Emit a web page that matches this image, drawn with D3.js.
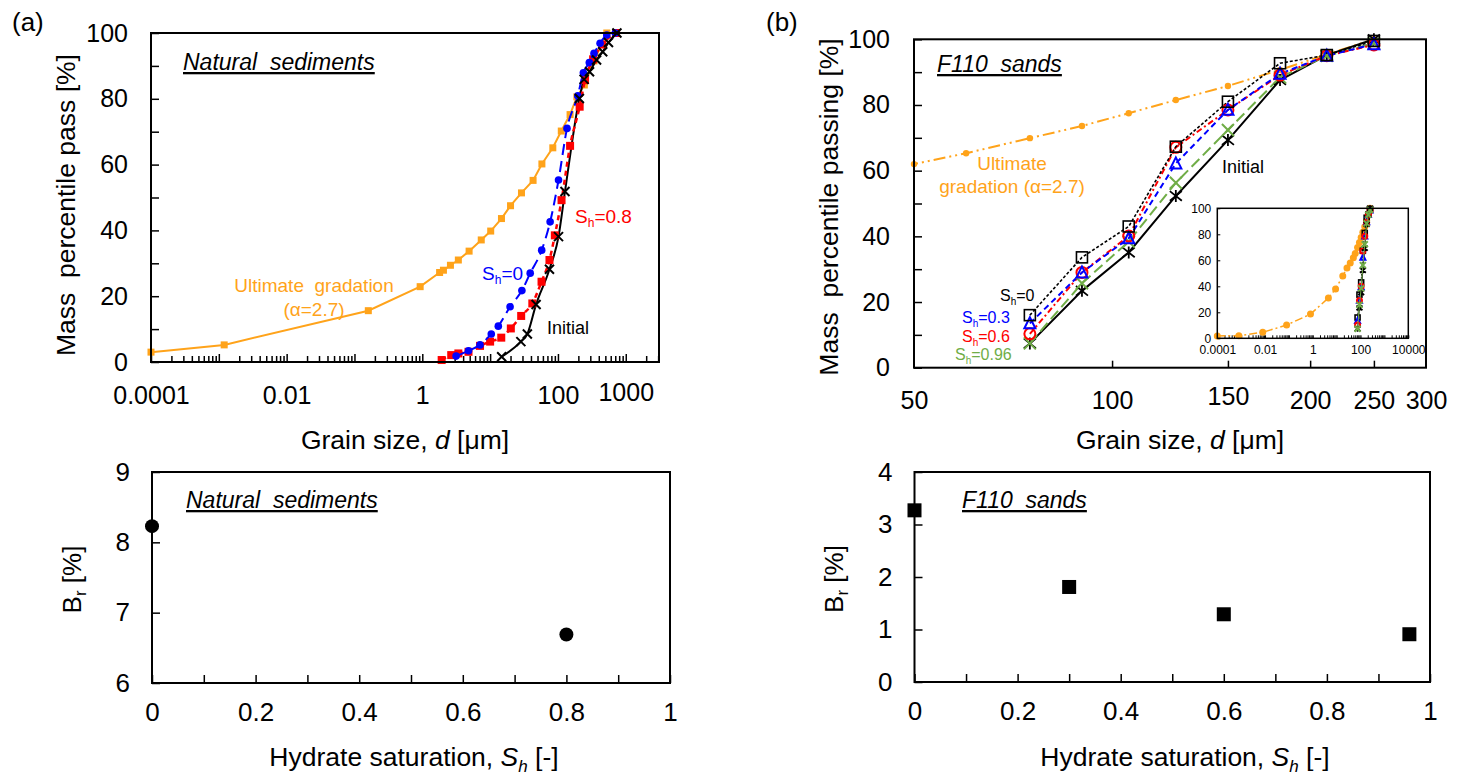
<!DOCTYPE html>
<html>
<head>
<meta charset="utf-8">
<script src="https://cdn.jsdelivr.net/npm/d3@7"></script>
<style>
  body { margin: 0; background: #fff; }
  text { font-family: "Liberation Sans", Arial, sans-serif; }
</style>
</head>
<body>
<svg id="chart"></svg>
<script>
// ---------- data (a) natural sediments ----------
const ultA_d = [0.0001, 0.0012, 0.16, 0.93, 1.8, 2.05, 2.6, 3.4, 4.9, 7.4, 10.2, 14.7, 20, 29, 43, 58, 84, 112, 151, 190, 245, 340, 525];
const ultA_p = [3, 5.2, 15.6, 22.9, 27.2, 27.9, 29.4, 31, 33.7, 37.1, 39.8, 43.6, 47.5, 51.4, 55.2, 60.2, 65.1, 70.2, 75.2, 80.6, 84.2, 91.5, 100];
const sh0A_d = [3.15, 4.8, 7.1, 10.4, 13.2, 19.7, 29.4, 39, 57.6, 76.7, 102, 136, 196, 237, 290, 340, 418, 525, 700];
const sh0A_p = [1.8, 3.4, 5.2, 8.5, 10.9, 16.8, 21.7, 27, 34, 42.6, 55.3, 71, 80.9, 87.9, 91, 93.8, 96.9, 99.4, 100];
const sh08A_d = [1.93, 2.67, 3.4, 4.8, 7.1, 10, 14.6, 20.2, 28.7, 41.9, 57.3, 75, 90, 113, 151, 209, 251, 330, 450, 720];
const sh08A_p = [0.6, 2.1, 2.6, 3.1, 4.9, 6.2, 7.4, 10.2, 14, 17.8, 24.4, 31, 38.5, 49.2, 65.7, 77.6, 85.7, 92, 96.5, 100];
const initA_d = [14.8, 28.4, 35.4, 47.6, 75, 102, 127, 207, 243, 292, 371, 457, 556, 741];
const initA_p = [1.6, 6.2, 8.5, 17.5, 28.2, 38.1, 51.8, 80.1, 85.9, 88.2, 91.8, 94.3, 97.1, 100];

const xTickValsA = [0.0001, 0.01, 1, 100, 1000];
const xTickLabsA = ["0.0001", "0.01", "1", "100", "1000"];

// ---------- data (b) F110 sands ----------
const sieveB = [75, 90, 106, 125, 150, 180, 212, 250];
const sh0B = [16.0, 33.6, 43.0, 67.3, 81.0, 92.7, 95.2, 99.5];
const sh03B = [13.5, 29.0, 39.4, 62.2, 78.5, 89.5, 95.0, 98.5];
const sh06B = [10.3, 29.0, 40.1, 67.1, 78.5, 89.1, 95.0, 98.3];
const sh096B = [7.4, 25.7, 38.4, 56.3, 72.4, 88.4, 95.0, 98.8];
const initB = [7.4, 23.4, 35.1, 52.3, 69.3, 87.6, 95.2, 100];
const ultB_d = [0.0001, 0.0008, 0.008, 0.08, 0.8, 4.5, 9, 18, 27, 37, 50, 60, 75, 90, 106, 125, 150, 180, 212, 250];
const ultB_p = [1.8, 2, 4.6, 10.2, 18.6, 31, 38, 48, 54, 58, 62, 65.3, 69.9, 73.6, 77.5, 81.5, 85.8, 90.7, 95.4, 100];

const xTickValsB = [50, 100, 150, 200, 250, 300];
const xTickValsInset = [0.0001, 0.01, 1, 100, 10000];
const xTickLabsInset = ["0.0001", "0.01", "1", "100", "10000"];

// ---------- data: breakage ----------
const brA_sh = [0, 0.8];
const brA = [8.23, 6.69];
const brB_sh = [0, 0.3, 0.6, 0.96];
const brB = [3.27, 1.81, 1.29, 0.91];

const ORANGE = "#ffa31a", BLUE = "#0000ff", RED = "#ff0000", GREEN = "#70ad47";

const svg = d3.select("#chart").attr("width", 1463).attr("height", 776);

const zip = (xs, ys) => xs.map((x, i) => ({ x, y: ys[i] }));

function logTicks(lo, hi) {
  const out = [];
  for (let e = Math.floor(Math.log10(lo)); e <= Math.ceil(Math.log10(hi)); e++) {
    for (let m = 1; m <= 9; m++) {
      const v = +(m * Math.pow(10, e)).toPrecision(3);
      if (v >= lo && v <= hi * 1.0001) out.push(v);
    }
  }
  return out;
}

function styleAxis(g, size) {
  g.select(".domain").remove();
  g.selectAll("line").attr("stroke", "#000").attr("stroke-width", 1.5);
  g.selectAll("text").style("font-size", size + "px").style("fill", "#000");
}

function frame(x0, x1, y0, y1) {
  svg.append("rect")
    .attr("x", x0).attr("y", y0)
    .attr("width", x1 - x0).attr("height", y1 - y0)
    .attr("fill", "none").attr("stroke", "#000").attr("stroke-width", 2);
}

function drawLine(g, data, x, y, color, dash, width, curve) {
  g.append("path")
    .datum(data)
    .attr("d", d3.line().x(d => x(d.x)).y(d => y(d.y)).curve(curve || d3.curveLinear))
    .attr("fill", "none")
    .attr("stroke", color)
    .attr("stroke-width", width)
    .attr("stroke-dasharray", dash);
}

function markers(g, data, x, y, kind, color, s) {
  const sel = g.append("g").selectAll("g").data(data).join("g")
    .attr("transform", d => `translate(${x(d.x)},${y(d.y)})`);
  if (kind === "fsquare") {
    sel.append("rect").attr("x", -s / 2).attr("y", -s / 2).attr("width", s).attr("height", s).attr("fill", color);
  } else if (kind === "fcircle") {
    sel.append("circle").attr("r", s).attr("fill", color);
  } else if (kind === "hsquare") {
    sel.append("rect").attr("x", -s / 2).attr("y", -s / 2).attr("width", s).attr("height", s)
      .attr("fill", "none").attr("stroke", color).attr("stroke-width", 1.6);
  } else if (kind === "hcircle") {
    sel.append("circle").attr("r", s).attr("fill", "none").attr("stroke", color).attr("stroke-width", 2);
  } else if (kind === "htri") {
    sel.append("path").attr("d", `M0,${-s * 0.55}L${s * 0.5},${s * 0.45}L${-s * 0.5},${s * 0.45}Z`)
      .attr("fill", "none").attr("stroke", color).attr("stroke-width", 2);
  } else if (kind === "x") {
    sel.append("path").attr("d", `M${-s},${-s}L${s},${s}M${-s},${s}L${s},${-s}`)
      .attr("stroke", color).attr("stroke-width", 2);
  } else if (kind === "star") {
    sel.append("path").attr("d", `M${-s},${-s * 0.8}L${s},${s * 0.8}M${-s},${s * 0.8}L${s},${-s * 0.8}M0,${-s}L0,${s}`)
      .attr("stroke", color).attr("stroke-width", 1.8);
  }
}

// plain text helper
function label(g, x, y, str, size, color, opts = {}) {
  const t = g.append("text").attr("x", x).attr("y", y)
    .attr("text-anchor", opts.anchor || "start")
    .style("font-size", size + "px").style("white-space", "pre")
    .style("fill", color || "#000").text(str);
  if (opts.italic) t.style("font-style", "italic");
  if (opts.underline) t.style("text-decoration", "underline");
  return t;
}

// text with a subscript: parts = [[text, "n"|"sub"|"i"|"isub"], ...]
function richText(g, x, y, parts, size, color, anchor) {
  const t = g.append("text").attr("x", x).attr("y", y)
    .attr("text-anchor", anchor || "start")
    .style("font-size", size + "px").style("white-space", "pre")
    .style("fill", color || "#000");
  let shifted = false;
  parts.forEach(([s, kind]) => {
    const sp = t.append("tspan").text(s);
    if (kind === "i" || kind === "isub") sp.style("font-style", "italic");
    if (kind === "sub" || kind === "isub") {
      sp.style("font-size", Math.round(size * 0.65) + "px");
      if (!shifted) { sp.attr("dy", size * 0.22); shifted = true; }
    } else if (shifted) {
      sp.attr("dy", -size * 0.22); shifted = false;
    }
  });
  return t;
}

// ================= (a) top: grain size, natural sediments =================
{
  const xA = d3.scaleLog().domain([1e-4, Math.pow(10, 3.49)]).range([151, 659]);
  const yA = d3.scaleLinear().domain([0, 100]).range([362, 33]);
  const g = svg.append("g");

  const xAxis = d3.axisBottom(xA)
    .tickValues(logTicks(1e-4, 3000))
    .tickSizeInner(-6).tickSizeOuter(0).tickPadding(24)
    .tickFormat(d => {
      const i = xTickValsA.findIndex(v => Math.abs(v - d) / v < 1e-6);
      return i >= 0 ? xTickLabsA[i] : "";
    });
  const gx = g.append("g").attr("transform", `translate(0,${yA(0)})`).call(xAxis);
  styleAxis(gx, 25);
  gx.selectAll(".tick").filter(d => Math.abs(Math.log10(d) - Math.round(Math.log10(d))) < 1e-6)
    .select("line").attr("y2", -8);
  gx.selectAll(".tick").filter(d => d === 1000).select("text").attr("y", 21);

  const yAxis = d3.axisLeft(yA).tickValues(d3.range(0, 101, 10))
    .tickSizeInner(-8).tickSizeOuter(0).tickPadding(23)
    .tickFormat(d => d % 20 === 0 ? d : "");
  const gy = g.append("g").attr("transform", `translate(${xA(1e-4)},0)`).call(yAxis);
  styleAxis(gy, 25);

  frame(151, 659, 33, 362);

  drawLine(g, zip(ultA_d, ultA_p), xA, yA, ORANGE, null, 2);
  markers(g, zip(ultA_d, ultA_p), xA, yA, "fsquare", ORANGE, 7);
  drawLine(g, zip(initA_d, initA_p), xA, yA, "#000", null, 2, d3.curveMonotoneX);
  drawLine(g, zip(sh08A_d, sh08A_p), xA, yA, RED, "5,4", 2.5, d3.curveMonotoneX);
  markers(g, zip(sh08A_d, sh08A_p), xA, yA, "fsquare", RED, 8);
  drawLine(g, zip(sh0A_d, sh0A_p), xA, yA, BLUE, "11,6", 2, d3.curveMonotoneX);
  markers(g, zip(sh0A_d, sh0A_p), xA, yA, "fcircle", BLUE, 3.8);
  markers(g, zip(initA_d, initA_p), xA, yA, "x", "#000", 4.5);

  label(g, 12, 31, "(a)", 26);
  g.append("text").attr("transform", "translate(66,205) rotate(-90)")
    .attr("text-anchor", "middle").attr("dy", "0.35em").style("font-size", "26.5px")
    .style("white-space", "pre").text("Mass  percentile pass [%]");
  richText(g, 405, 449, [["Grain size, ", "n"], ["d", "i"], [" [μm]", "n"]], 26.5, "#000", "middle");
  label(g, 183, 70, "Natural  sediments", 23, "#000", { italic: true, underline: true });

  label(g, 314, 292, "Ultimate  gradation", 19, ORANGE, { anchor: "middle" });
  label(g, 314, 316, "(α=2.7)", 19, ORANGE, { anchor: "middle" });
  richText(g, 482, 280, [["S", "n"], ["h", "sub"], ["=0", "n"]], 19, BLUE);
  richText(g, 575, 223, [["S", "n"], ["h", "sub"], ["=0.8", "n"]], 19, RED);
  label(g, 547, 334, "Initial", 18);
}

// ================= (b) top: grain size, F110 sands =================
{
  const xB = d3.scaleLog().domain([50, 300]).range([914, 1426]);
  const yB = d3.scaleLinear().domain([0, 100]).range([367.7, 39.3]);
  const g = svg.append("g");

  const xAxis = d3.axisBottom(xB).tickValues(xTickValsB)
    .tickSizeInner(-7).tickSizeOuter(0).tickPadding(24).tickFormat(d => d);
  const gx = g.append("g").attr("transform", `translate(0,${yB(0)})`).call(xAxis);
  styleAxis(gx, 25);
  gx.selectAll(".tick").filter(d => d === 50 || d === 300).select("line").remove();
  gx.selectAll(".tick").filter(d => d === 150).select("text").attr("y", 20);

  const yAxis = d3.axisLeft(yB).tickValues(d3.range(0, 101, 10))
    .tickSizeInner(-8).tickSizeOuter(0).tickPadding(24)
    .tickFormat(d => d % 20 === 0 ? d : "");
  const gy = g.append("g").attr("transform", `translate(914,0)`).call(yAxis);
  styleAxis(gy, 25);

  svg.append("clipPath").attr("id", "clipB").append("rect")
    .attr("x", 914).attr("y", 30).attr("width", 512).attr("height", 345);
  const pg = g.append("g").attr("clip-path", "url(#clipB)");

  drawLine(pg, zip(ultB_d, ultB_p), xB, yB, ORANGE, "12,4,2,4,2,4", 2);
  drawLine(pg, zip(sieveB, initB), xB, yB, "#000", null, 2);
  drawLine(pg, zip(sieveB, sh096B), xB, yB, GREEN, "11,5", 2);
  drawLine(pg, zip(sieveB, sh06B), xB, yB, RED, "6,3,2,3", 2);
  drawLine(pg, zip(sieveB, sh03B), xB, yB, BLUE, "6,4", 2);
  drawLine(pg, zip(sieveB, sh0B), xB, yB, "#000", "3,2", 1.6);

  const ultVisible = zip(ultB_d, ultB_p).filter(d => d.x >= 50);
  markers(g, ultVisible, xB, yB, "fcircle", ORANGE, 3.2);
  markers(g, zip(sieveB, initB), xB, yB, "star", "#000", 6);
  markers(g, zip(sieveB, sh096B), xB, yB, "x", GREEN, 6);
  markers(g, zip(sieveB, sh06B), xB, yB, "hcircle", RED, 5.5);
  markers(g, zip(sieveB, sh03B), xB, yB, "htri", BLUE, 11);
  markers(g, zip(sieveB, sh0B), xB, yB, "hsquare", "#000", 11);

  frame(914, 1426, 39.3, 367.7);

  label(g, 766, 31, "(b)", 26);
  g.append("text").attr("transform", "translate(829,207) rotate(-90)")
    .attr("text-anchor", "middle").attr("dy", "0.35em").style("font-size", "26.5px")
    .style("white-space", "pre").text("Mass  percentile passing [%]");
  richText(g, 1180, 449, [["Grain size, ", "n"], ["d", "i"], [" [μm]", "n"]], 26.5, "#000", "middle");
  label(g, 937, 72, "F110  sands", 23, "#000", { italic: true, underline: true });

  label(g, 1012, 170, "Ultimate", 19, ORANGE, { anchor: "middle" });
  label(g, 1012, 193, "gradation (α=2.7)", 19, ORANGE, { anchor: "middle" });
  label(g, 1222, 173, "Initial", 18);

  richText(g, 1000, 301, [["S", "n"], ["h", "sub"], ["=0", "n"]], 16, "#000");
  richText(g, 962, 323, [["S", "n"], ["h", "sub"], ["=0.3", "n"]], 16, BLUE);
  richText(g, 962, 342, [["S", "n"], ["h", "sub"], ["=0.6", "n"]], 16, RED);
  richText(g, 955, 360, [["S", "n"], ["h", "sub"], ["=0.96", "n"]], 16, GREEN);

  // ---- inset ----
  const xI = d3.scaleLog().domain([1e-4, 1e4]).range([1217.3, 1408.3]);
  const yI = d3.scaleLinear().domain([0, 100]).range([338.3, 208.3]);
  const ig = svg.append("g");
  ig.append("rect").attr("x", 1217.3).attr("y", 208.3).attr("width", 191).attr("height", 130).attr("fill", "#fff");

  const ixAxis = d3.axisBottom(xI).tickValues(logTicks(1e-4, 1e4))
    .tickSizeInner(-3).tickSizeOuter(0).tickPadding(7)
    .tickFormat(d => {
      const i = xTickValsInset.findIndex(v => Math.abs(v - d) / v < 1e-6);
      return i >= 0 ? xTickLabsInset[i] : "";
    });
  const igx = ig.append("g").attr("transform", `translate(0,${yI(0)})`).call(ixAxis);
  styleAxis(igx, 12);
  igx.selectAll("line").attr("stroke-width", 1);

  const iyAxis = d3.axisLeft(yI).tickValues(d3.range(0, 101, 20))
    .tickSizeInner(-3).tickSizeOuter(0).tickPadding(6);
  const igy = ig.append("g").attr("transform", `translate(1217.3,0)`).call(iyAxis);
  styleAxis(igy, 12);
  igy.selectAll("line").attr("stroke-width", 1);

  drawLine(ig, zip(ultB_d, ultB_p), xI, yI, ORANGE, "8,3,2,3", 1.5);
  markers(ig, zip(ultB_d, ultB_p), xI, yI, "fcircle", ORANGE, 3.5);
  drawLine(ig, zip(sieveB, initB), xI, yI, "#000", null, 1);
  drawLine(ig, zip(sieveB, sh0B), xI, yI, "#000", "2,1", 1);
  markers(ig, zip(sieveB, sh0B), xI, yI, "hsquare", "#000", 5);
  markers(ig, zip(sieveB, sh03B), xI, yI, "htri", BLUE, 5);
  markers(ig, zip(sieveB, sh06B), xI, yI, "hcircle", RED, 2.5);
  markers(ig, zip(sieveB, initB), xI, yI, "star", "#000", 3);
  drawLine(ig, zip(sieveB, sh096B), xI, yI, GREEN, null, 1);
  markers(ig, zip(sieveB, sh096B), xI, yI, "x", GREEN, 3);

  ig.append("rect").attr("x", 1217.3).attr("y", 208.3).attr("width", 191).attr("height", 130)
    .attr("fill", "none").attr("stroke", "#000").attr("stroke-width", 1.5);
}

// ================= bottom panels: breakage vs hydrate saturation =================
function breakagePanel(x0, x1, y0, y1, yDom, shVals, brVals, shape, title, titleX, yTitleX, xTitleX) {
  const x = d3.scaleLinear().domain([0, 1]).range([x0, x1]);
  const y = d3.scaleLinear().domain(yDom).range([y1, y0]);
  const g = svg.append("g");

  const xAxis = d3.axisBottom(x).tickValues(d3.range(0, 1.01, 0.1))
    .tickSizeInner(-8).tickSizeOuter(0).tickPadding(20)
    .tickFormat(d => Math.round(d * 10) % 2 === 0 ? d3.format("~g")(+d.toFixed(1)) : "");
  const gx = g.append("g").attr("transform", `translate(0,${y1})`).call(xAxis);
  styleAxis(gx, 26);

  const yAxis = d3.axisLeft(y).ticks(yDom[1] - yDom[0])
    .tickSizeInner(-8).tickSizeOuter(0).tickPadding(22).tickFormat(d3.format("d"));
  const gy = g.append("g").attr("transform", `translate(${x0},0)`).call(yAxis);
  styleAxis(gy, 26);

  frame(x0, x1, y0, y1);

  const pts = zip(shVals, brVals);
  if (shape === "circle") markers(g, pts, x, y, "fcircle", "#000", 7);
  else markers(g, pts, x, y, "fsquare", "#000", 14);

  label(g, titleX, y0 + 36, title, 23, "#000", { italic: true, underline: true });

  const yt = g.append("text").attr("transform", `translate(${yTitleX},${(y0 + y1) / 2 + 2}) rotate(-90)`)
    .attr("text-anchor", "middle").attr("dy", "0.35em").style("font-size", "26px")
    .style("white-space", "pre");
  yt.append("tspan").text("B");
  yt.append("tspan").text("r").style("font-size", "17px").attr("dy", 5);
  yt.append("tspan").text(" [%]").attr("dy", -5);

  richText(g, xTitleX, 766, [["Hydrate saturation, ", "n"], ["S", "i"], ["h", "isub"], [" [-]", "n"]], 26.5, "#000", "middle");
}

breakagePanel(152, 670, 472, 683, [6, 9], brA_sh, brA, "circle", "Natural  sediments", 186, 72, 414);
breakagePanel(914.5, 1430, 472, 682, [0, 4], brB_sh, brB, "square", "F110  sands", 962, 834, 1185);
</script>
</body>
</html>
